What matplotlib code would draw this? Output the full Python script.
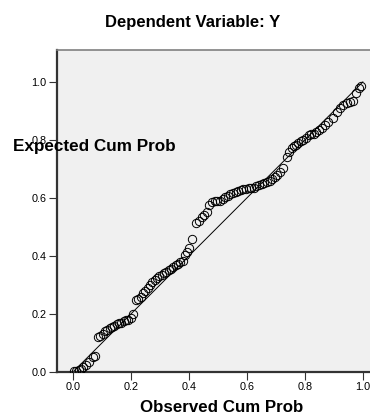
import numpy as np
import matplotlib
matplotlib.use('Agg')
import matplotlib.pyplot as plt

# Observed vs expected cumulative probabilities.
obsCum = [0.005, 0.012, 0.020, 0.028, 0.036, 0.045, 0.057, 0.068, 0.076,
          0.087, 0.095, 0.103, 0.111, 0.119, 0.127, 0.135, 0.143, 0.151,
          0.159, 0.167, 0.175, 0.183, 0.191, 0.199, 0.207,
          0.218, 0.226, 0.234, 0.242, 0.250, 0.258, 0.266, 0.274, 0.282,
          0.290, 0.298, 0.306, 0.314, 0.322, 0.330, 0.338, 0.346, 0.354,
          0.362, 0.370, 0.378, 0.386, 0.394, 0.402, 0.410,
          0.426, 0.435, 0.444, 0.453, 0.462, 0.471, 0.480, 0.489, 0.498,
          0.507, 0.516, 0.525, 0.534, 0.543, 0.552, 0.561, 0.570, 0.579,
          0.588, 0.597, 0.606, 0.615, 0.624, 0.633, 0.642, 0.651, 0.660,
          0.669, 0.678, 0.687, 0.696, 0.705, 0.714, 0.723, 0.737, 0.745,
          0.754, 0.762, 0.770, 0.777, 0.786, 0.795, 0.804, 0.813, 0.822,
          0.831, 0.840, 0.849, 0.858, 0.869, 0.880, 0.898, 0.910, 0.920,
          0.930, 0.944, 0.955, 0.966, 0.978, 0.986, 0.995]
expCum = [0.003, 0.004, 0.008, 0.012, 0.018, 0.025, 0.035, 0.050, 0.055,
          0.120, 0.125, 0.130, 0.140, 0.145, 0.150, 0.155, 0.160, 0.165,
          0.170, 0.170, 0.175, 0.178, 0.180, 0.185, 0.200,
          0.248, 0.252, 0.260, 0.271, 0.280, 0.290, 0.300, 0.311, 0.318,
          0.325, 0.330, 0.334, 0.340, 0.345, 0.350, 0.355, 0.363, 0.368,
          0.372, 0.378, 0.382, 0.403, 0.415, 0.428, 0.457,
          0.515, 0.520, 0.535, 0.542, 0.550, 0.575, 0.585, 0.588, 0.590,
          0.591, 0.595, 0.603, 0.608, 0.612, 0.616, 0.620, 0.625, 0.628,
          0.630, 0.632, 0.633, 0.634, 0.636, 0.640, 0.645, 0.648, 0.652,
          0.654, 0.658, 0.665, 0.673, 0.680, 0.690, 0.702, 0.742, 0.760,
          0.771, 0.778, 0.783, 0.788, 0.795, 0.800, 0.806, 0.817, 0.820,
          0.822, 0.829, 0.835, 0.840, 0.852, 0.862, 0.875, 0.895, 0.909,
          0.920, 0.926, 0.932, 0.934, 0.962, 0.978, 0.985]
ticks = [0.0, 0.2, 0.4, 0.6, 0.8, 1.0]
tickLabels = ['0.0', '0.2', '0.4', '0.6', '0.8', '1.0']

plt.rcParams['font.family'] = ['Liberation Sans', 'DejaVu Sans']

fig = plt.figure(figsize=(3.70, 4.16), dpi=100)
ax = fig.add_axes([57/370, 44/416, 325/370, 322/416])
ax.set_facecolor('#F0F0F0')

# Reference diagonal.
ax.plot([0, 1], [0, 1], color='black', linewidth=0.7, zorder=2)
ax.plot(obsCum, expCum, linestyle='None', marker='o', markersize=6.0,
        markerfacecolor='none', markeredgecolor='black',
        markeredgewidth=0.7, zorder=3, clip_on=True)

ax.set_xlim(-0.055, 1.066)
ax.set_ylim(0.0, 1.11)
ax.set_xticks(ticks)
ax.set_xticklabels(tickLabels)
ax.set_yticks(ticks)
ax.set_yticklabels(tickLabels)
ax.tick_params(direction='out', length=6, width=0.8, labelsize=7.8,
               colors='#333333', labelcolor='black', pad=1.5)

for side in ['left', 'bottom']:
    ax.spines[side].set_color('#333333')
    ax.spines[side].set_linewidth(1.6)
ax.spines['top'].set_color('#808080')
ax.spines['top'].set_linewidth(1.2)
ax.spines['right'].set_visible(False)

fig.text(193/370, 1 - 22/416, 'Dependent Variable: Y', ha='center',
         va='center', fontsize=12, fontweight='bold')
fig.text(94/370, 1 - 147/416, 'Expected Cum Prob', ha='center',
         va='center', fontsize=12.3, fontweight='bold')
fig.text(222/370, 1 - 407/416, 'Observed Cum Prob', ha='center',
         va='center', fontsize=12.2, fontweight='bold')

fig.savefig('out.png', dpi=100)
